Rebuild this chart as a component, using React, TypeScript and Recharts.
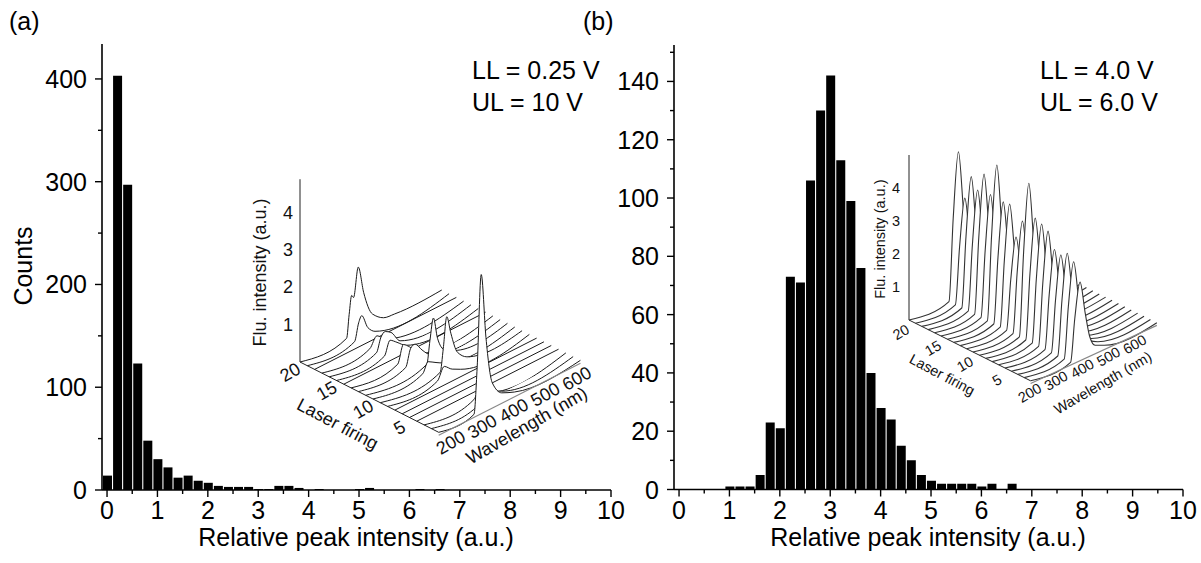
import React from 'react';
import { BarChart, Bar, XAxis, YAxis, ComposedChart, Area, Line } from 'recharts';

const FONT = '"Liberation Sans", Arial, Helvetica, sans-serif';

// ---- histogram data (bin centres, counts) ----
const BIN_CENTERS_A = [0, 0.2, 0.4, 0.6, 0.8, 1.0, 1.2, 1.4, 1.6, 1.8, 2.0, 2.2, 2.4, 2.6, 2.8, 3.0, 3.2, 3.4, 3.6, 3.8, 4.0, 4.2, 4.4, 4.6, 4.8, 5.0, 5.2, 5.4, 5.6, 5.8, 6.0, 6.2, 6.4, 6.6];
const COUNTS_A = [14, 403, 297, 123, 48, 30, 22, 12, 14, 9, 7, 4, 3, 3, 3, 1, 1, 4, 4, 2, 0, 1, 0, 0, 0, 1, 2, 0, 0, 0, 0, 1, 0, 1];

const BIN_CENTERS_B = [1.0, 1.2, 1.4, 1.6, 1.8, 2.0, 2.2, 2.4, 2.6, 2.8, 3.0, 3.2, 3.4, 3.6, 3.8, 4.0, 4.2, 4.4, 4.6, 4.8, 5.0, 5.2, 5.4, 5.6, 5.8, 6.0, 6.2, 6.4, 6.6];
const COUNTS_B = [1, 1, 1, 5, 23, 21, 73, 71, 106, 130, 142, 113, 99, 76, 40, 28, 24, 15, 10, 5, 3, 2, 2, 2, 2, 1, 2, 0, 2];

const X_TICKS = [0, 0.5, 1, 1.5, 2, 2.5, 3, 3.5, 4, 4.5, 5, 5.5, 6, 6.5, 7, 7.5, 8, 8.5, 9, 9.5, 10];
const X_LABELS = [0, 1, 2, 3, 4, 5, 6, 7, 8, 9, 10];
const Y_TICKS_A = [0, 50, 100, 150, 200, 250, 300, 350, 400];
const Y_LABELS_A = [0, 100, 200, 300, 400];
const Y_TICKS_B = [0, 10, 20, 30, 40, 50, 60, 70, 80, 90, 100, 110, 120, 130, 140, 150];
const Y_LABELS_B = [0, 20, 40, 60, 80, 100, 120, 140];

// ---- inset waterfall data ----
const FIRINGS = [20, 19, 18, 17, 16, 15, 14, 13, 12, 11, 10, 9, 8, 7, 6, 5, 4, 3, 2, 1];
const INSET_I_TICKS = [1, 2, 3, 4];
const INSET_F_TICKS = [20, 15, 10, 5];
const INSET_WL_TICKS = [200, 300, 400, 500, 600];

// (a) spectra, back (firing 20) to front (firing 1): [wavelength nm, intensity]
const SPECTRA_A: number[][][] = [
  [[200, 0], [348, 0], [356, 0.6], [364, 1.08], [370, 1.0], [385, 1.75], [402, 1.0], [430, 0.3], [465, 0.05], [500, 0], [650, 0]],
  [[200, 0], [350, 0], [363, 0.45], [373, 0.6], [392, 0.2], [415, 0], [650, 0]],
  [[200, 0], [650, 0]],
  [[200, 0], [352, 0], [375, 0.25], [402, 0.05], [650, 0]],
  [[200, 0], [350, 0], [364, 0.35], [378, 0.45], [396, 0.35], [425, 0], [650, 0]],
  [[200, 0], [352, 0], [370, 0.35], [392, 0.2], [420, 0], [650, 0]],
  [[200, 0], [650, 0]],
  [[200, 0], [348, 0], [366, 0.45], [386, 0.3], [415, 0], [650, 0]],
  [[200, 0], [350, 0], [366, 0.45], [380, 0.5], [402, 0.25], [430, 0], [650, 0]],
  [[200, 0], [394, 0], [404, 0.6], [415, 1.15], [428, 0.55], [450, 0.15], [480, 0], [650, 0]],
  [[200, 0], [358, 0], [375, 0.25], [400, 0.12], [425, 0], [650, 0]],
  [[200, 0], [390, 0], [400, 0.6], [411, 1.4], [424, 0.9], [445, 0.3], [475, 0.05], [650, 0]],
  [[200, 0], [358, 0], [380, 0.3], [405, 0.12], [432, 0], [650, 0]],
  [[200, 0], [650, 0]],
  [[200, 0], [650, 0]],
  [[200, 0], [650, 0]],
  [[200, 0], [650, 0]],
  [[200, 0], [358, 0], [378, 0.2], [402, 0], [650, 0]],
  [[200, 0], [352, 0], [366, 0.3], [375, 0.4], [396, 0.18], [422, 0.05], [650, 0]],
  [[200, 0], [312, 0], [322, 1.2], [335, 3.65], [350, 1.9], [370, 0.6], [400, 0.2], [440, 0.05], [650, 0]],
];

// (b) spectra on a shared wavelength grid, back (firing 20) to front (firing 1)
const WL_B = [200, 352, 368, 388, 408, 425, 445, 480, 680];
const SPECTRA_B = [
  [0, 0, 2.45, 4.41, 2.45, 0.97, 0.35, 0.09, 0],
  [0, 0, 1.7, 3.1, 1.7, 0.68, 0.25, 0.06, 0],
  [0, 0, 2.1, 3.85, 2.1, 0.85, 0.31, 0.08, 0],
  [0, 0, 1.95, 3.54, 1.95, 0.78, 0.28, 0.07, 0],
  [0, 0, 2.27, 4.12, 2.27, 0.91, 0.33, 0.08, 0],
  [0, 0, 1.98, 3.6, 1.98, 0.79, 0.29, 0.07, 0],
  [0, 0, 2.52, 4.59, 2.52, 1.01, 0.37, 0.09, 0],
  [0, 0, 1.96, 3.57, 1.96, 0.79, 0.29, 0.07, 0],
  [0, 0, 1.98, 3.6, 1.98, 0.79, 0.29, 0.07, 0],
  [0, 0, 1.49, 2.7, 1.49, 0.59, 0.22, 0.05, 0],
  [0, 0, 1.8, 3.28, 1.8, 0.72, 0.26, 0.07, 0],
  [0, 0, 2.49, 4.52, 2.49, 0.99, 0.36, 0.09, 0],
  [0, 0, 1.96, 3.56, 1.96, 0.78, 0.28, 0.07, 0],
  [0, 0, 1.91, 3.48, 1.91, 0.77, 0.28, 0.07, 0],
  [0, 0, 1.85, 3.36, 1.85, 0.74, 0.27, 0.07, 0],
  [0, 0, 1.6, 2.9, 1.6, 0.64, 0.23, 0.06, 0],
  [0, 0, 1.56, 2.83, 1.56, 0.62, 0.23, 0.06, 0],
  [0, 0, 1.64, 2.98, 1.64, 0.66, 0.24, 0.06, 0],
  [0, 0, 1.55, 2.82, 1.55, 0.62, 0.23, 0.06, 0],
  [0, 0, 1.27, 2.3, 1.27, 0.51, 0.18, 0.05, 0],
];

const AXIS_LINE = { stroke: '#000', strokeWidth: 1.6 };
const FS = 25;

type Proj = { ox: number; oy: number; fx: number; fy: number; wx: number; wy: number; ki: number };

// oblique projection of (wavelength, firing, intensity) onto the page
const project = (p: Proj, wl: number, f: number, v: number) => {
  const n = 20 - f;
  return { x: p.ox + p.fx * n + p.wx * (wl - 200), y: p.oy + p.fy * n + p.wy * (wl - 200) - p.ki * v };
};

const PROJ_A: Proj = { ox: 300, oy: 362, fx: 7.3, fy: 3.7, wx: 0.315, wy: -0.16, ki: 37.3 };
const PROJ_B: Proj = { ox: 909, oy: 320, fx: 6.4, fy: 3.2, wx: 0.263, wy: -0.121, ki: 33 };

const makeXTick = (labels: number[]) => (props: any) => {
  const { x, y, payload } = props;
  const major = labels.includes(payload.value);
  return (
    <g>
      <line x1={x} x2={x} y1={y} y2={y + (major ? 7 : 4)} stroke="#000" strokeWidth={1.4} />
      {major && (
        <text x={x} y={y + 29} textAnchor="middle" fontSize={FS} fill="#000">
          {payload.value}
        </text>
      )}
    </g>
  );
};

const makeYTick = (labels: number[]) => (props: any) => {
  const { x, y, payload } = props;
  const major = labels.includes(payload.value);
  return (
    <g>
      <line x1={x - (major ? 7 : 4)} x2={x} y1={y} y2={y} stroke="#000" strokeWidth={1.4} />
      {major && (
        <text x={x - 15} y={y + 9} textAnchor="end" fontSize={FS} fill="#000">
          {payload.value}
        </text>
      )}
    </g>
  );
};

function Histogram({ left, width, plot, xs, counts, yMax, yTicks, yLabels }: any) {
  const data = xs.map((x: number, i: number) => ({ x, count: counts[i] }));
  const height = 563;
  return (
    <div style={{ position: 'absolute', left, top: 0 }}>
      <BarChart width={width} height={height} data={data} margin={{ top: plot.t, right: left + width - plot.r, bottom: 0, left: 0 }}>
        <XAxis dataKey="x" type="number" domain={[-0.1, 10]} allowDataOverflow ticks={X_TICKS} interval={0}
          tickLine={false} tickSize={0} tickMargin={0} tick={makeXTick(X_LABELS)} axisLine={AXIS_LINE} height={height - plot.b} />
        <XAxis xAxisId="top" orientation="top" type="number" domain={[-0.1, 10]} allowDataOverflow
          tick={false} tickLine={false} axisLine={AXIS_LINE} height={0} />
        <YAxis type="number" domain={[0, yMax]} allowDataOverflow ticks={yTicks} interval={0}
          tickLine={false} tickSize={0} tickMargin={0} tick={makeYTick(yLabels)} axisLine={AXIS_LINE} width={plot.l - left} />
        <YAxis yAxisId="right" orientation="right" type="number" domain={[0, yMax]} allowDataOverflow
          tick={false} tickLine={false} axisLine={AXIS_LINE} width={0} />
        <Bar dataKey="count" fill="#000" barSize={9} isAnimationActive={false} />
      </BarChart>
    </div>
  );
}

function Inset({ p, box, spectra, iMax, wlMax, lineColor, lineWidth }: any) {
  const P = (wl: number, f: number, v: number) => project(p, wl, f, v);
  const axisI = [P(200, 20, 0), P(200, 20, iMax)];
  const axisF = [P(200, 20, 0), P(200, 1, 0)];
  const axisW = [P(200, 1, -0.08), P(wlMax, 1, -0.08)];
  const series = spectra.map((pts: number[][], i: number) =>
    pts.map(([wl, v]) => {
      const top = P(wl, FIRINGS[i], v);
      const base = P(wl, FIRINGS[i], 0);
      return { x: top.x, top: top.y, range: [base.y, top.y] };
    })
  );
  const items: any[] = [];
  series.forEach((d: any[], i: number) => {
    items.push(
      <Area key={`a${i}`} data={d} dataKey="range" type="monotone" fill="#fff" fillOpacity={1} stroke="none"
        isAnimationActive={false} dot={false} activeDot={false} zIndex={1000 + i * 2} />
    );
    items.push(
      <Line key={`l${i}`} data={d} dataKey="top" type="monotone" stroke={lineColor} strokeWidth={lineWidth}
        isAnimationActive={false} dot={false} activeDot={false} zIndex={1001 + i * 2} />
    );
  });
  return (
    <div style={{ position: 'absolute', left: box.x, top: box.y }}>
      <ComposedChart width={box.w} height={box.h} margin={{ top: 0, right: 0, bottom: 0, left: 0 }}>
        <XAxis type="number" dataKey="x" domain={[box.x, box.x + box.w]} hide allowDataOverflow />
        <YAxis type="number" domain={[box.y, box.y + box.h]} reversed hide allowDataOverflow />
        <Line data={axisI} dataKey="y" stroke="#222" strokeWidth={1} dot={false} activeDot={false} isAnimationActive={false} zIndex={990} />
        <Line data={axisF} dataKey="y" stroke="#222" strokeWidth={1} dot={false} activeDot={false} isAnimationActive={false} zIndex={991} />
        {items}
        <Line data={axisW} dataKey="y" stroke="#888" strokeWidth={1.2} dot={false} activeDot={false} isAnimationActive={false} zIndex={1200} />
      </ComposedChart>
    </div>
  );
}

function InsetText({ p, c }: any) {
  const P = (wl: number, f: number, v: number) => project(p, wl, f, v);
  const rot = (x: number, y: number, r: number, s: string, key: string) => (
    <text key={key} transform={`translate(${x},${y}) rotate(${r})`} textAnchor="middle" dy="0.35em" fontSize={c.font} fill="#111">
      {s}
    </text>
  );
  const iTitle = P(200, 20, c.iTitleAt);
  const fTitle = P(200, c.fTitleAt, 0);
  const wTitle = P(c.wTitleAt, 1, 0);
  return (
    <g>
      {INSET_I_TICKS.map((v) => {
        const q = P(200, 20, v);
        return (
          <text key={`i${v}`} x={q.x + c.iTick[0]} y={q.y + c.iTick[1]} textAnchor="end" fontSize={c.font} fill="#111">
            {v}
          </text>
        );
      })}
      {rot(p.ox + c.iTitleDx, iTitle.y, -90, 'Flu. intensity (a.u.)', 'it')}
      {INSET_F_TICKS.map((f) => {
        const q = P(200, f, 0);
        return rot(q.x + c.fTick[0], q.y + c.fTick[1], c.wRot, String(f), `f${f}`);
      })}
      {rot(fTitle.x + c.fTitle[0], fTitle.y + c.fTitle[1], c.fRot, 'Laser firing', 'ft')}
      {INSET_WL_TICKS.map((wl) => {
        const q = P(wl, 1, 0);
        return rot(q.x + c.wTick[0], q.y + c.wTick[1], c.wRot, String(wl), `w${wl}`);
      })}
      {rot(wTitle.x + c.wTitle[0], wTitle.y + c.wTitle[1], c.wRot, 'Wavelength (nm)', 'wt')}
    </g>
  );
}

const TEXT_A = { font: 18, iTick: [-7, 6], iTitleAt: 2.4, iTitleDx: -40, fTick: [-10, 10], fTitleAt: 12.5, fTitle: [-17, 34], fRot: 28, wTick: [12, 10], wTitleAt: 425, wTitle: [17, 29], wRot: -30 };
const TEXT_B = { font: 14.5, iTick: [-9, 5], iTitleAt: 2.45, iTitleDx: -29, fTick: [-8, 12], fTitleAt: 12, fTitle: [-18, 29], fRot: 28, wTick: [-1, 12], wTitleAt: 440, wTitle: [9, 31], wRot: -30 };

export default function App() {
  return (
    <div style={{ position: 'absolute', left: 0, top: 0, width: 1201, height: 563, background: '#fff', fontFamily: FONT, overflow: 'hidden' }}>
      <Histogram left={0} width={625} plot={{ l: 102, r: 611, t: 44, b: 490 }} xs={BIN_CENTERS_A} counts={COUNTS_A}
        yMax={434} yTicks={Y_TICKS_A} yLabels={Y_LABELS_A} />
      <Histogram left={590} width={611} plot={{ l: 674, r: 1183, t: 45, b: 489.5 }} xs={BIN_CENTERS_B} counts={COUNTS_B}
        yMax={152.5} yTicks={Y_TICKS_B} yLabels={Y_LABELS_B} />
      <Inset p={PROJ_A} box={{ x: 240, y: 165, w: 370, h: 300 }} spectra={SPECTRA_A} iMax={4.9} wlMax={650} lineColor="#1a1a1a" lineWidth={1} />
      <Inset p={PROJ_B} box={{ x: 860, y: 140, w: 310, h: 260 }}
        spectra={SPECTRA_B.map((row) => row.map((v, j) => [WL_B[j], v]))} iMax={5.0} wlMax={680} lineColor="#333" lineWidth={1.1} />
      <svg width={1201} height={563} style={{ position: 'absolute', left: 0, top: 0, pointerEvents: 'none' }}>
        <text x={9} y={30} fontSize={FS} fill="#000">(a)</text>
        <text x={583} y={30} fontSize={FS} fill="#000">(b)</text>
        <text x={472} y={79} fontSize={FS} fill="#000">LL = 0.25 V</text>
        <text x={472} y={111} fontSize={FS} fill="#000">UL = 10 V</text>
        <text x={1040} y={79} fontSize={FS} fill="#000">LL = 4.0 V</text>
        <text x={1040} y={111} fontSize={FS} fill="#000">UL = 6.0 V</text>
        <text transform="translate(32,266) rotate(-90)" textAnchor="middle" fontSize={FS} fill="#000">Counts</text>
        <text x={356} y={546} textAnchor="middle" fontSize={FS} fill="#000">Relative peak intensity (a.u.)</text>
        <text x={928} y={546} textAnchor="middle" fontSize={FS} fill="#000">Relative peak intensity (a.u.)</text>
        <InsetText p={PROJ_A} c={TEXT_A} />
        <InsetText p={PROJ_B} c={TEXT_B} />
      </svg>
    </div>
  );
}
